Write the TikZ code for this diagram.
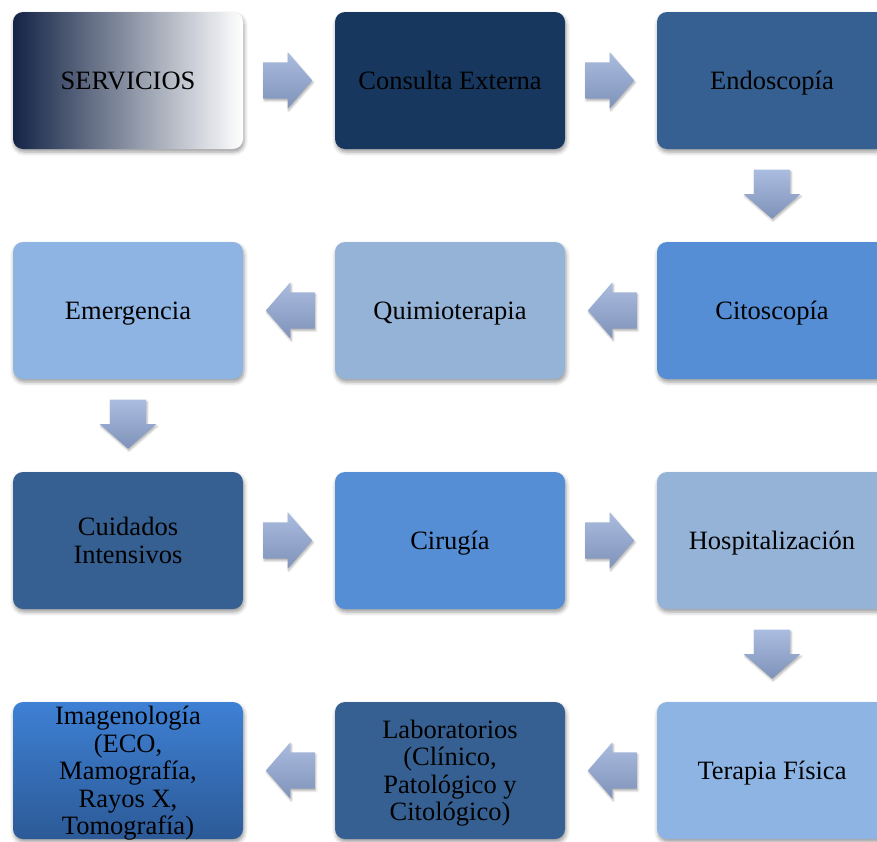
\documentclass[tikz,border=0pt]{standalone}
\usepackage{fontspec}
\setmainfont{Liberation Serif}
\usetikzlibrary{shapes.arrows,shadows.blur,calc}

% fill colours of the service cards
\definecolor{navy}{HTML}{17375E}
\definecolor{steel}{HTML}{366092}
\definecolor{azure}{HTML}{558ED5}
\definecolor{mist}{HTML}{95B3D7}
\definecolor{sky}{HTML}{8EB4E3}
\definecolor{darkend}{RGB}{20,36,70}
\definecolor{midgray}{RGB}{158,159,165}
\definecolor{imgtop}{HTML}{3E80D4}
\definecolor{imgbot}{HTML}{2C5A97}
% block arrow gradient
\definecolor{arrtop}{HTML}{AABCDF}
\definecolor{arrbot}{HTML}{7F92B9}

\begin{document}
\begin{tikzpicture}[x=1pt,y=-1pt,
  card/.style={rounded corners=10pt, minimum width=230pt, minimum height=137pt,
    inner sep=0pt, align=center, text=black,
    font=\fontsize{26.5}{27.5}\selectfont,
    blur shadow={shadow xshift=1pt, shadow yshift=-3pt,
      shadow blur radius=4pt, shadow opacity=40}},
  oneline/.style={text height=17.5pt, text depth=0pt},
  multiline/.style={text depth=0pt},
  flow/.style={single arrow, draw=none, inner xsep=0pt, inner ysep=18pt,
    minimum height=49pt, minimum width=56pt, anchor=tail,
    single arrow head extend=10pt, single arrow tip angle=98,
    top color=arrtop, bottom color=arrbot,
    blur shadow={shadow xshift=1pt, shadow yshift=-2pt,
      shadow blur radius=2pt, shadow opacity=30}},
  toright/.style={flow},
  toleft/.style={flow, shape border rotate=180},
  todown/.style={flow, shape border rotate=270, inner xsep=18pt, inner ysep=0pt},
]
\useasboundingbox (0,0) rectangle (877,841);
\clip (0,0) rectangle (877,841);

% first row
\node[card, oneline, left color=darkend, middle color=midgray, right color=white]
  (serv) at (128,80.5) {SERVICIOS};
\node[card, oneline, fill=navy] (cons) at (450,80.5) {Consulta Externa};
\node[card, oneline, fill=steel] (endo) at (772,80.5) {Endoscopía};

% second row
\node[card, oneline, fill=sky] (emer) at (128,310.5) {Emergencia};
\node[card, oneline, fill=mist] (quim) at (450,310.5) {Quimioterapia};
\node[card, oneline, fill=azure] (cito) at (772,310.5) {Citoscopía};

% third row
\node[card, fill=steel] (cuid) at (128,540.5) {Cuidados\\Intensivos};
\node[card, oneline, fill=azure] (ciru) at (450,540.5) {Cirugía};
\node[card, oneline, fill=mist] (hosp) at (772,540.5) {Hospitalización};

% fourth row
\node[card, multiline, top color=imgtop, bottom color=imgbot] (imag) at (128,770.5)
  {Imagenología\\(ECO,\\Mamografía,\\Rayos X,\\Tomografía)};
\node[card, multiline, fill=steel] (labo) at (450,770.5)
  {Laboratorios\\(Clínico,\\Patológico y\\Citológico)};
\node[card, oneline, fill=sky] (tera) at (772,770.5) {Terapia Física};

% block arrows: tail placed just before the middle of each gap
\newcommand\gaptail[2]{($(#1)!0.5!(#2)!26pt!(#1)$)}
\node[toright] (a1)  at \gaptail{serv.east}{cons.west} {};
\node[toright] (a2)  at \gaptail{cons.east}{endo.west} {};
\node[todown]  (a3)  at \gaptail{endo.south}{cito.north} {};
\node[toleft]  (a4)  at \gaptail{cito.west}{quim.east} {};
\node[toleft]  (a5)  at \gaptail{quim.west}{emer.east} {};
\node[todown]  (a6)  at \gaptail{emer.south}{cuid.north} {};
\node[toright] (a7)  at \gaptail{cuid.east}{ciru.west} {};
\node[toright] (a8)  at \gaptail{ciru.east}{hosp.west} {};
\node[todown]  (a9)  at \gaptail{hosp.south}{tera.north} {};
\node[toleft]  (a10) at \gaptail{tera.west}{labo.east} {};
\node[toleft]  (a11) at \gaptail{labo.west}{imag.east} {};
\end{tikzpicture}
\end{document}
